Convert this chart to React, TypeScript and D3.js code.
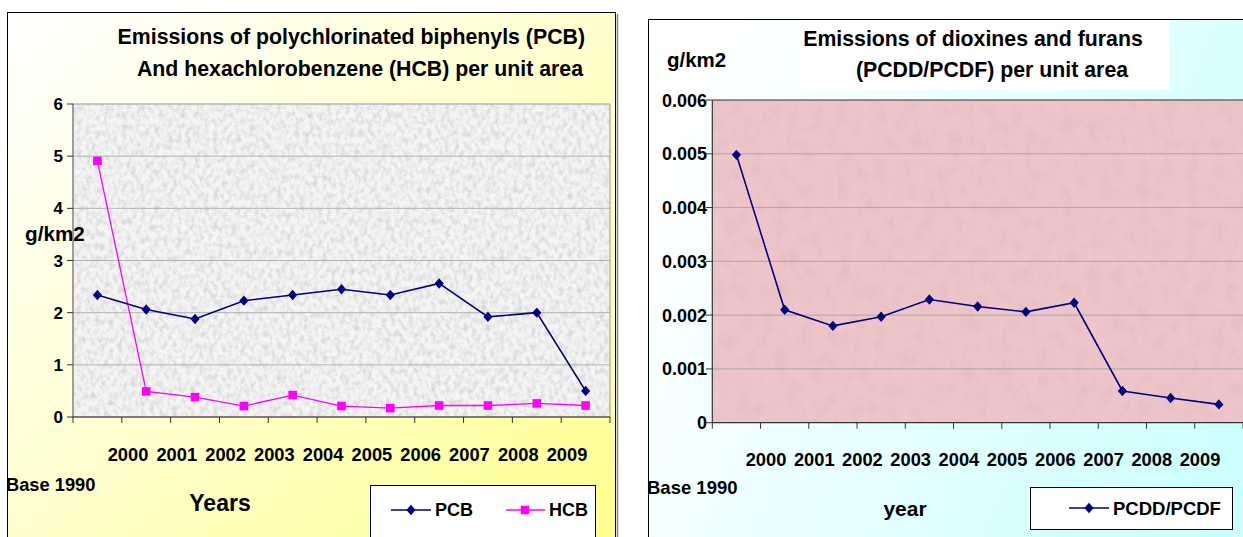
import React from 'react';
import * as d3 from 'd3';

const categories = ['Base 1990', '2000', '2001', '2002', '2003', '2004', '2005', '2006', '2007', '2008', '2009'];
const yearLabels = categories.slice(1);
const pcbValues = [2.34, 2.06, 1.88, 2.23, 2.34, 2.45, 2.34, 2.56, 1.92, 2.0, 0.5];
const hcbValues = [4.91, 0.49, 0.38, 0.21, 0.42, 0.21, 0.17, 0.22, 0.22, 0.26, 0.22];
const pcddValues = [0.00498, 0.0021, 0.0018, 0.00197, 0.00229, 0.00216, 0.00206, 0.00223, 0.00059, 0.00046, 0.00034];
const leftTicks = [0, 1, 2, 3, 4, 5, 6];
const rightTicks = [0, 0.001, 0.002, 0.003, 0.004, 0.005, 0.006];

const FONT = "'Liberation Sans', Arial, sans-serif";
const diamond = 'M0,-5.2L4.6,0L0,5.2L-4.6,0Z';
const square = 'M-4.3,-4.3H4.3V4.3H-4.3Z';

export default function App() {
  const W = 1243, H = 537;

  // left chart scales
  const xL = d3.scaleBand<string>().domain(categories).range([73, 610]);
  const yL = d3.scaleLinear().domain([0, 6]).range([417, 104]);
  const lblL = d3.scalePoint<string>().domain(yearLabels).range([128, 567]);
  // right chart scales
  const xR = d3.scaleBand<string>().domain(categories).range([712.3, 1243]);
  const yR = d3.scaleLinear().domain([0, 0.006]).range([422.7, 100]);
  const lblR = d3.scalePoint<string>().domain(yearLabels).range([766, 1200]);

  const cx = (x: d3.ScaleBand<string>, i: number) => (x(categories[i]) as number) + x.bandwidth() / 2;
  const lineL = (vals: number[]) => d3.line<number>().x((_, i) => cx(xL, i)).y((d) => yL(d))(vals) as string;
  const lineR = (vals: number[]) => d3.line<number>().x((_, i) => cx(xR, i)).y((d) => yR(d))(vals) as string;

  const boundsL = categories.map((c) => xL(c) as number).concat([xL.range()[1]]);
  const boundsR = categories.map((c) => xR(c) as number).concat([xR.range()[1]]);

  return (
    <svg width={W} height={H} style={{ position: 'absolute', left: 0, top: 0, background: '#fff' }} fontFamily={FONT} fontWeight="bold">
      <defs>
        <linearGradient id="bgL" x1="0" y1="0" x2="1" y2="1">
          <stop offset="0" stopColor="#ffffff" />
          <stop offset="0.45" stopColor="#ffffd4" />
          <stop offset="1" stopColor="#ffff8c" />
        </linearGradient>
        <linearGradient id="bgR" x1="0" y1="0.3" x2="1" y2="0.7">
          <stop offset="0" stopColor="#ffffff" />
          <stop offset="0.5" stopColor="#e6ffff" />
          <stop offset="1" stopColor="#ccffff" />
        </linearGradient>
        <filter id="noiseL" x="0" y="0" width="1" height="1">
          <feTurbulence type="fractalNoise" baseFrequency="0.22 0.16" numOctaves="4" seed="7" />
          <feColorMatrix type="matrix" values="0 0 0 0 0.45  0 0 0 0 0.45  0 0 0 0 0.45  1.0 0 0 0 -0.4" />
        </filter>
        <filter id="noiseR" x="0" y="0" width="1" height="1">
          <feTurbulence type="fractalNoise" baseFrequency="0.08 0.06" numOctaves="4" seed="3" />
          <feColorMatrix type="matrix" values="0 0 0 0 0.7  0 0 0 0 0.45  0 0 0 0 0.5  0.9 0 0 0 -0.35" />
        </filter>
      </defs>

      {/* ===== LEFT CHART ===== */}
      <rect x={7.5} y={12.5} width={608} height={540} fill="url(#bgL)" stroke="#000" strokeWidth={1} />
      <line x1={617.5} y1={14} x2={617.5} y2={H} stroke="#888" strokeWidth={1.5} />

      <text x={585} y={44} textAnchor="end" fontSize={21.3} fill="#000">Emissions of polychlorinated biphenyls (PCB)</text>
      <text x={583} y={76} textAnchor="end" fontSize={21.3} fill="#000">And hexachlorobenzene (HCB) per unit area</text>

      <rect x={73} y={104} width={537} height={313} fill="#f4f4f4" />
      <rect x={73} y={104} width={537} height={313} filter="url(#noiseL)" />
      {leftTicks.filter((t) => t > 0 && t < 6).map((t) => (
        <line key={t} x1={73} x2={610} y1={yL(t)} y2={yL(t)} stroke="#b4b4b4" strokeWidth={1} />
      ))}
      <rect x={73} y={104} width={537} height={313} fill="none" stroke="#9a9a9a" strokeWidth={1} />
      <line x1={73} x2={73} y1={104} y2={417} stroke="#777" strokeWidth={1} />
      <line x1={73} x2={610} y1={417} y2={417} stroke="#333" strokeWidth={1} />
      {leftTicks.map((t) => (
        <g key={t}>
          <line x1={67} x2={73} y1={yL(t)} y2={yL(t)} stroke="#333" />
          <text x={63} y={yL(t) + 6} textAnchor="end" fontSize={17}>{t}</text>
        </g>
      ))}
      {boundsL.map((b, i) => (
        <line key={i} x1={b} x2={b} y1={417} y2={423} stroke="#333" />
      ))}
      <text x={25} y={241} fontSize={20.7}>g/km2</text>

      <path d={lineL(hcbValues)} fill="none" stroke="#ff00ff" strokeWidth={1.3} />
      <path d={lineL(pcbValues)} fill="none" stroke="#000080" strokeWidth={1.6} />
      {hcbValues.map((v, i) => (
        <path key={'h' + i} d={square} transform={`translate(${cx(xL, i)},${yL(v)})`} fill="#ff00ff" />
      ))}
      {pcbValues.map((v, i) => (
        <path key={'p' + i} d={diamond} transform={`translate(${cx(xL, i)},${yL(v)})`} fill="#000080" />
      ))}

      {yearLabels.map((y) => (
        <text key={y} x={lblL(y)} y={461} textAnchor="middle" fontSize={18.3}>{y}</text>
      ))}
      <text x={6} y={491} fontSize={18.3}>{categories[0]}</text>
      <text x={220} y={511} textAnchor="middle" fontSize={23}>Years</text>

      <rect x={370.5} y={485.5} width={225} height={56} fill="#fff" stroke="#000" strokeWidth={1} />
      <line x1={391} x2={431} y1={510} y2={510} stroke="#000080" strokeWidth={1.6} />
      <path d={diamond} transform="translate(411,510)" fill="#000080" />
      <text x={435} y={516} fontSize={18}>PCB</text>
      <line x1={506} x2={545} y1={510} y2={510} stroke="#ff00ff" strokeWidth={1.3} />
      <path d={square} transform="translate(525,510)" fill="#ff00ff" />
      <text x={549} y={516} fontSize={18}>HCB</text>

      {/* ===== RIGHT CHART ===== */}
      <rect x={648.5} y={19.5} width={620} height={540} fill="url(#bgR)" stroke="#000" strokeWidth={1} />
      <rect x={800} y={20} width={370} height={70} fill="#ffffff" />
      <text x={973} y={46} textAnchor="middle" fontSize={21.3}>Emissions of dioxines and furans</text>
      <text x={992} y={77} textAnchor="middle" fontSize={21.3}>(PCDD/PCDF) per unit area</text>
      <text x={667} y={67} fontSize={20.5}>g/km2</text>

      <rect x={712.3} y={100} width={531} height={322.7} fill="#eec6ca" />
      <rect x={712.3} y={100} width={531} height={322.7} filter="url(#noiseR)" />
      {rightTicks.filter((t) => t > 0 && t < 0.006).map((t) => (
        <line key={t} x1={712.3} x2={1243} y1={yR(t)} y2={yR(t)} stroke="#a8a8a8" strokeWidth={1} />
      ))}
      <line x1={712.3} x2={1243} y1={100} y2={100} stroke="#333" strokeWidth={1.2} />
      <line x1={712.3} x2={712.3} y1={100} y2={422.7} stroke="#333" strokeWidth={1.2} />
      <line x1={712.3} x2={1243} y1={422.7} y2={422.7} stroke="#333" strokeWidth={1.2} />
      {rightTicks.map((t) => (
        <g key={t}>
          <line x1={706} x2={712.3} y1={yR(t)} y2={yR(t)} stroke="#333" />
          <text x={707} y={yR(t) + 6.5} textAnchor="end" fontSize={18}>{t === 0 ? '0' : t.toFixed(3)}</text>
        </g>
      ))}
      {boundsR.map((b, i) => (
        <line key={i} x1={b} x2={b} y1={422.7} y2={428.7} stroke="#333" />
      ))}

      <path d={lineR(pcddValues)} fill="none" stroke="#000080" strokeWidth={1.6} />
      {pcddValues.map((v, i) => (
        <path key={'d' + i} d={diamond} transform={`translate(${cx(xR, i)},${yR(v)})`} fill="#000080" />
      ))}

      {yearLabels.map((y) => (
        <text key={y} x={lblR(y)} y={466} textAnchor="middle" fontSize={18.3}>{y}</text>
      ))}
      <text x={647} y={494} fontSize={18.5}>{categories[0]}</text>
      <text x={905} y={516} textAnchor="middle" fontSize={21}>year</text>

      <rect x={1030.5} y={487.5} width={202} height={42} fill="#fff" stroke="#000" strokeWidth={1} />
      <line x1={1069} x2={1109} y1={508} y2={508} stroke="#000080" strokeWidth={1.6} />
      <path d={diamond} transform="translate(1089,508)" fill="#000080" />
      <text x={1113} y={514.5} fontSize={18.5}>PCDD/PCDF</text>
    </svg>
  );
}
